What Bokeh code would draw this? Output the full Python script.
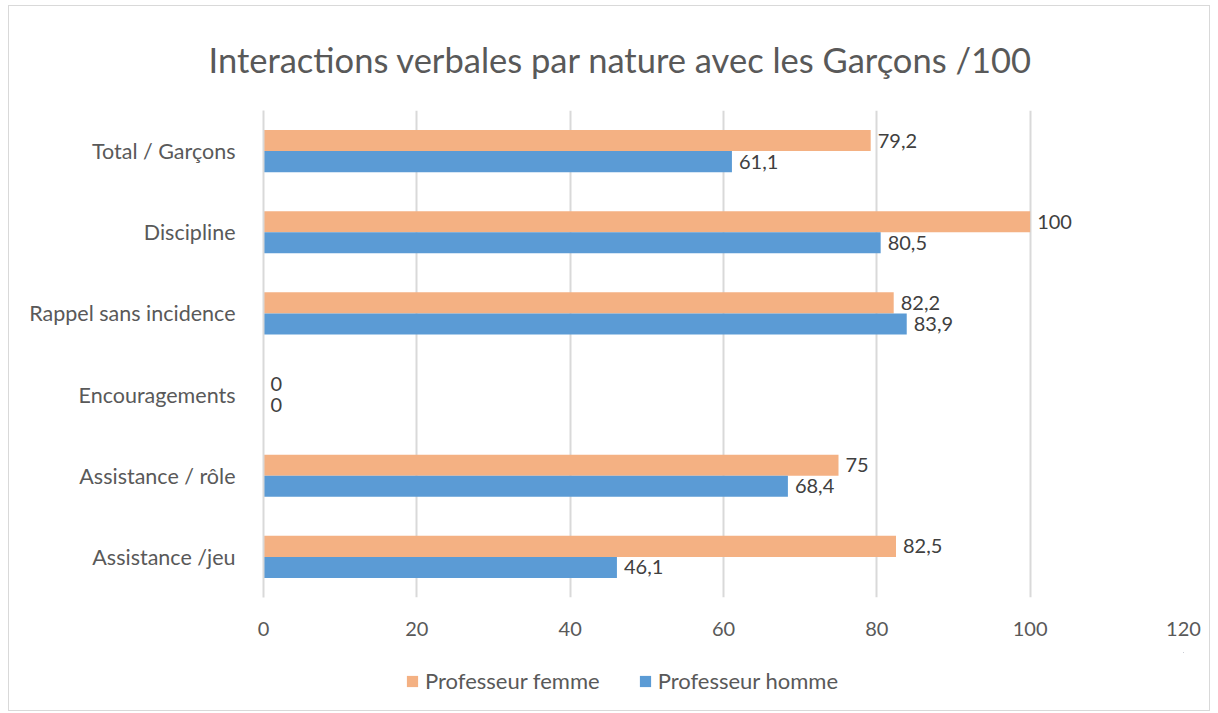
from bokeh.plotting import figure
from bokeh.layouts import column
from bokeh.models import (ColumnDataSource, FactorRange, Range1d, Legend, LegendItem,
                          FixedTicker, Title)
from bokeh.transform import dodge
from bokeh.core.properties import value
from bokeh.embed import file_html
from bokeh.resources import INLINE

categories = ["Total / Garçons", "Discipline", "Rappel sans incidence",
              "Encouragements", "Assistance / rôle", "Assistance /jeu"]
femme = [79.2, 100, 82.2, 0, 75, 82.5]
homme = [61.1, 80.5, 83.9, 0, 68.4, 46.1]
series_names = ["Professeur femme", "Professeur homme"]
x_ticks = [0, 20, 40, 60, 80, 100, 120]

FONT = "Lato"
TXT = "#595959"
C_F = "#F4B183"
C_H = "#5B9BD5"

def fmt(v):
    s = ("%.1f" % v).rstrip("0").rstrip(".")
    return s.replace(".", ",")

src = ColumnDataSource(dict(
    cat=categories, femme=femme, homme=homme,
    lf=[fmt(v) for v in femme], lh=[fmt(v) for v in homme],
))

p = figure(width=1200, height=646, output_backend="svg", toolbar_location=None,
           y_range=FactorRange(factors=list(reversed(categories))),
           x_range=Range1d(0, 120))
p.min_border_left = 254
p.min_border_right = 26
p.min_border_top = 104
p.min_border_bottom = 55
p.outline_line_color = None

p.title = Title(text="Interactions verbales par nature avec les Garçons /100",
                align="left", offset=-55, text_font=FONT, text_font_size="34.5px",
                text_color=TXT, text_font_style="normal", standoff=61)

bh = 0.26
p.hbar(y=dodge("cat", bh / 2, range=p.y_range), right="femme", left=0,
       height=bh, source=src, fill_color=C_F, line_color=None)
p.hbar(y=dodge("cat", -bh / 2, range=p.y_range), right="homme", left=0,
       height=bh, source=src, fill_color=C_H, line_color=None)

for col, lab, off in (("femme", "lf", bh / 2), ("homme", "lh", -bh / 2)):
    p.text(x=col, y=dodge("cat", off, range=p.y_range), text=lab, source=src,
           x_offset=7, text_align="left", text_baseline="middle",
           text_font=value(FONT), text_font_size="20px", text_color="#404040")

p.xaxis.ticker = FixedTicker(ticks=x_ticks)
p.xaxis.axis_line_color = None
p.xaxis.major_tick_line_color = None
p.xaxis.minor_tick_line_color = None
p.xaxis.major_label_text_font = FONT
p.xaxis.major_label_text_font_size = "20px"
p.xaxis.major_label_text_color = TXT
p.xaxis.major_label_standoff = 18

p.yaxis.axis_line_color = "#d9d9d9"
p.yaxis.axis_line_width = 2
p.yaxis.major_tick_line_color = None
p.yaxis.minor_tick_line_color = None
p.yaxis.major_label_text_font = FONT
p.yaxis.major_label_text_font_size = "21.5px"
p.yaxis.major_label_text_color = TXT
p.yaxis.major_label_standoff = 22

p.xgrid.grid_line_color = "#d9d9d9"
p.xgrid.grid_line_width = 2
p.ygrid.grid_line_color = None

# legend strip (zero-width bars outside its ranges, only the legend shows)
lg = figure(width=1200, height=58, output_backend="svg", toolbar_location=None,
            x_axis_type=None, y_axis_type=None, x_range=Range1d(-20, -10),
            y_range=Range1d(-1, 1))
lg.min_border_left = 254
lg.min_border_right = 26
lg.min_border_top = 0
lg.min_border_bottom = 0
lg.outline_line_color = None
lg.grid.grid_line_color = None
gf = lg.hbar(y=10, left="femme", right="femme", height=0.1, source=src,
             fill_color=C_F, line_color=None)
gh = lg.hbar(y=10, left="homme", right="homme", height=0.1, source=src,
             fill_color=C_H, line_color=None)

legend = Legend(items=[LegendItem(label=series_names[0], renderers=[gf]),
                       LegendItem(label=series_names[1], renderers=[gh])],
                orientation="horizontal", location=(142, 16),
                glyph_width=14, glyph_height=14, label_standoff=6, spacing=38,
                padding=0, margin=0, border_line_color=None,
                background_fill_alpha=0,
                label_text_font=FONT, label_text_font_size="22px",
                label_text_color=TXT)
lg.add_layout(legend, "center")

layout = column(p, lg, spacing=0)
layout.margin = (5, 0, 0, 8)
layout.styles = {"border": "1px solid #d9d9d9"}

open("out.html", "w").write(file_html(layout, INLINE))
